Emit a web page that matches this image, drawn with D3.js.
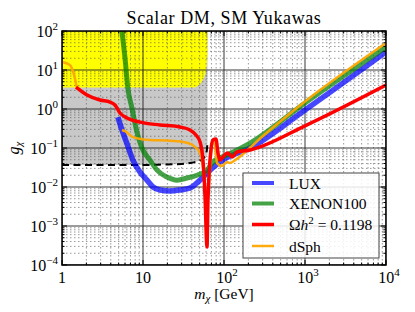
<!DOCTYPE html>
<html>
<head>
<meta charset="utf-8">
<script src="https://cdn.jsdelivr.net/npm/d3@7"></script>
<style>
body { margin: 0; background: #fff; }
text { font-family: "Liberation Serif", "DejaVu Serif", serif; fill: #000; }
</style>
</head>
<body>
<div id="chart"></div>
<script>
// values (m in GeV, g dimensionless)
var luxMass = [4.9, 5.5, 6.3, 7.5, 9.2, 11.2, 13.3, 16.2, 21.5, 28.6, 38, 50.6, 67, 97, 209, 1000, 10000];
var luxG    = [0.62, 0.29, 0.134, 0.049, 0.024, 0.015, 0.010, 0.0084, 0.0079, 0.0084, 0.0094, 0.015, 0.027, 0.049, 0.1, 0.94, 29];

var xenonMass = [5.4, 6.0, 6.5, 7.3, 8.4, 9.7, 12.2, 14.9, 19.8, 26.3, 35, 46.4, 61.7, 73, 109, 209, 1000, 10000];
var xenonG    = [130, 20, 3.45, 1.06, 0.26, 0.1, 0.049, 0.027, 0.018, 0.015, 0.017, 0.020, 0.027, 0.044, 0.066, 0.134, 1.43, 39];

var relicMass = [1.49, 2.04, 2.94, 3.91, 4.51, 5.2, 6.34, 9.2, 16.2, 28.6, 38, 45, 50.6, 55, 58.2, 61.7, 63.4, 69, 73, 79.6, 84.3, 89.3, 97, 112, 126, 145, 209, 1000, 10000];
var relicG    = [3.66, 2.29, 1.70, 1.51, 1.27, 0.79, 0.59, 0.46, 0.39, 0.345, 0.29, 0.216, 0.143, 0.049, 0.0062, 0.00029, 0.0046, 0.089, 0.16, 0.17, 0.074, 0.049, 0.059, 0.074, 0.059, 0.079, 0.089, 0.37, 4.1];

var dsphMass = [1, 1.25, 1.41, 1.53, null, 5.5, 6.0, 7.5, 12.2, 19.8, 31, 41, 50.6, 55, 58.2, 61.7, 65.3, 69, 73, 77.4, 82, 94, 109, 118, 137, 300, 1000, 10000];
var dsphG    = [16, 13.4, 7.4, 3.45, null, 0.29, 0.27, 0.19, 0.16, 0.155, 0.143, 0.119, 0.074, 0.033, 0.011, 0.0046, 0.011, 0.066, 0.15, 0.12, 0.041, 0.0345, 0.044, 0.041, 0.049, 0.2, 1.55, 49];

// Higgs invisible width bound (dashed, bottom of grey area)
var invMass = [1, 10, 20, 30, 40, 50, 56, 60, 61.5, 62.3];
var invG    = [0.0366, 0.0366, 0.038, 0.039, 0.042, 0.047, 0.055, 0.07, 0.09, 0.13];

// perturbativity (bottom of yellow area)
var pertMass = [1, 41, 48.2, 53, 58.2, 61.1, 62.5];
var pertG    = [3.54, 3.54, 3.95, 5.0, 7.4, 13.4, 25];

var xMajor = [1, 10, 100, 1000, 10000];
var yMajor = [1e-4, 1e-3, 1e-2, 1e-1, 1, 10, 100];
var mHalf = 62.5;

var series = [
  {name: "LUX", m: luxMass, g: luxG, color: "blue", width: 5.5, op: 0.72},
  {name: "XENON100", m: xenonMass, g: xenonG, color: "green", width: 5, op: 0.72},
  {name: "relic", m: relicMass, g: relicG, color: "red", width: 3.5, op: 1},
  {name: "dSph", m: dsphMass, g: dsphG, color: "orange", width: 2.5, op: 0.95}
];

var W = 415, H = 312;
var L = 62, R = 386, T = 31, B = 265;

var svg = d3.select("#chart").append("svg").attr("width", W).attr("height", H);

var x = d3.scaleLog().domain([1, 1e4]).range([L, R]);
var y = d3.scaleLog().domain([1e-4, 1e2]).range([B, T]);

svg.append("clipPath").attr("id", "clip")
  .append("rect").attr("x", L).attr("y", T).attr("width", R - L).attr("height", B - T);

var plot = svg.append("g").attr("clip-path", "url(#clip)");

function pts(ms, gs) {
  return ms.map(function(v, i) { return [v, gs[i]]; });
}

var line = d3.line()
  .defined(function(d) { return d[0] != null; })
  .x(function(d) { return x(d[0]); })
  .y(function(d) { return y(d[1]); })
  .curve(d3.curveMonotoneX);

// grey region: between dashed line and the top, left of m_h/2
var grey = pts(invMass, invG).concat([[mHalf, invG[invG.length - 1]], [mHalf, 100], [1, 100]]);
plot.append("path")
  .attr("d", d3.line().x(function(d) { return x(d[0]); }).y(function(d) { return y(d[1]); })(grey) + "Z")
  .attr("fill", "#c8c8c8");

// yellow region
plot.append("path")
  .attr("d", d3.line().x(function(d) { return x(d[0]); }).y(function(d) { return y(d[1]); }).curve(d3.curveMonotoneX)(pts(pertMass, pertG))
    + "L" + x(mHalf) + "," + y(100) + "L" + x(1) + "," + y(100) + "Z")
  .attr("fill", "#ffff00");

// grid
var xMinor = [], yMinor = [];
for (var e = 0; e < 4; e++) for (var k = 2; k < 10; k++) xMinor.push(k * Math.pow(10, e));
for (var e = -4; e < 2; e++) for (var k = 2; k < 10; k++) yMinor.push(k * Math.pow(10, e));

var grid = plot.append("g");
grid.selectAll(".xmin").data(xMinor).enter().append("line")
  .attr("x1", function(d) { return x(d); }).attr("x2", function(d) { return x(d); })
  .attr("y1", T).attr("y2", B)
  .attr("stroke", "#555").attr("stroke-width", 0.6).attr("stroke-dasharray", "1.5,2.5");
grid.selectAll(".ymin").data(yMinor).enter().append("line")
  .attr("y1", function(d) { return y(d); }).attr("y2", function(d) { return y(d); })
  .attr("x1", L).attr("x2", R)
  .attr("stroke", "#555").attr("stroke-width", 0.6).attr("stroke-dasharray", "1.5,2.5");
grid.selectAll(".xmaj").data(xMajor).enter().append("line")
  .attr("x1", function(d) { return x(d); }).attr("x2", function(d) { return x(d); })
  .attr("y1", T).attr("y2", B)
  .attr("stroke", "#222").attr("stroke-width", 0.9);
grid.selectAll(".ymaj").data(yMajor).enter().append("line")
  .attr("y1", function(d) { return y(d); }).attr("y2", function(d) { return y(d); })
  .attr("x1", L).attr("x2", R)
  .attr("stroke", "#222").attr("stroke-width", 0.9);

// dashed invisible-width line
plot.append("path")
  .attr("d", line(pts(invMass, invG)))
  .attr("fill", "none").attr("stroke", "#000").attr("stroke-width", 2)
  .attr("stroke-dasharray", "7,4.5");

// curves
var order = [0, 1, 3, 2];
order.forEach(function(i) {
  var s = series[i];
  plot.append("path")
    .attr("d", line(pts(s.m, s.g)))
    .attr("fill", "none")
    .attr("stroke", s.color)
    .attr("stroke-opacity", s.op)
    .attr("stroke-width", s.width)
    .attr("stroke-linejoin", "round");
});

// ticks inside, all four sides
function ticks(vals, len) {
  vals.forEach(function(v) {
    var px = x(v);
    svg.append("line").attr("x1", px).attr("x2", px).attr("y1", B).attr("y2", B - len).attr("stroke", "#000");
    svg.append("line").attr("x1", px).attr("x2", px).attr("y1", T).attr("y2", T + len).attr("stroke", "#000");
  });
}
function yticks(vals, len) {
  vals.forEach(function(v) {
    var py = y(v);
    svg.append("line").attr("y1", py).attr("y2", py).attr("x1", L).attr("x2", L + len).attr("stroke", "#000");
    svg.append("line").attr("y1", py).attr("y2", py).attr("x1", R).attr("x2", R - len).attr("stroke", "#000");
  });
}
ticks(xMajor, 5); ticks(xMinor, 2.5);
yticks(yMajor, 5); yticks(yMinor, 2.5);

svg.append("rect").attr("x", L).attr("y", T).attr("width", R - L).attr("height", B - T)
  .attr("fill", "none").attr("stroke", "#000").attr("stroke-width", 1.5);

// tick labels
function powLabel(sel, e) {
  sel.append("tspan").text("10");
  sel.append("tspan").attr("font-size", 11).attr("dy", -7).text(e < 0 ? "\u2212" + (-e) : e);
}
xMajor.forEach(function(v) {
  var e = Math.round(Math.log10(v));
  var t = svg.append("text").attr("x", x(v) + (e > 1 ? 3 : 0)).attr("y", 283).attr("text-anchor", "middle").attr("font-size", 16);
  if (e == 0) t.text("1");
  else if (e == 1) t.text("10");
  else powLabel(t, e);
});
yMajor.forEach(function(v) {
  var e = Math.round(Math.log10(v));
  var t = svg.append("text").attr("x", 58).attr("y", y(v) + 5.5).attr("text-anchor", "end").attr("font-size", 16);
  powLabel(t, e);
});

// titles
svg.append("text").attr("x", (L + R) / 2).attr("y", 24).attr("text-anchor", "middle")
  .attr("font-size", 18).attr("letter-spacing", 0.6).text("Scalar DM, SM Yukawas");

var xl = svg.append("text").attr("x", (L + R) / 2).attr("y", 299).attr("text-anchor", "middle").attr("font-size", 15.5);
xl.append("tspan").attr("font-style", "italic").text("m");
xl.append("tspan").attr("font-style", "italic").attr("font-size", 11).attr("dy", 3).text("\u03c7");
xl.append("tspan").attr("dy", -3).text(" [GeV]");

var yl = svg.append("text").attr("transform", "translate(19,148) rotate(-90)").attr("text-anchor", "middle").attr("font-size", 16);
yl.append("tspan").attr("font-style", "italic").text("g");
yl.append("tspan").attr("font-style", "italic").attr("font-size", 11).attr("dy", 3).text("\u03c7");

// legend
var lg = svg.append("g");
lg.append("rect").attr("x", 243).attr("y", 173).attr("width", 136).attr("height", 85)
  .attr("fill", "#fff").attr("fill-opacity", 0.85).attr("stroke", "#444").attr("stroke-width", 1);
var rows = [183, 203.5, 224.5, 246];
series.forEach(function(s, i) {
  lg.append("line").attr("x1", 252).attr("x2", 274).attr("y1", rows[i]).attr("y2", rows[i])
    .attr("stroke", s.color).attr("stroke-opacity", s.op).attr("stroke-width", Math.min(s.width, 4));
  var t = lg.append("text").attr("x", 289).attr("y", rows[i] + 5.5).attr("font-size", 15.5);
  if (s.name == "relic") {
    t.append("tspan").text("\u03a9");
    t.append("tspan").attr("font-style", "italic").text("h");
    t.append("tspan").attr("font-size", 11).attr("dy", -6).text("2");
    t.append("tspan").attr("dy", 6).text(" = 0.1198");
  } else {
    t.text(s.name);
  }
});
</script>
</body>
</html>
